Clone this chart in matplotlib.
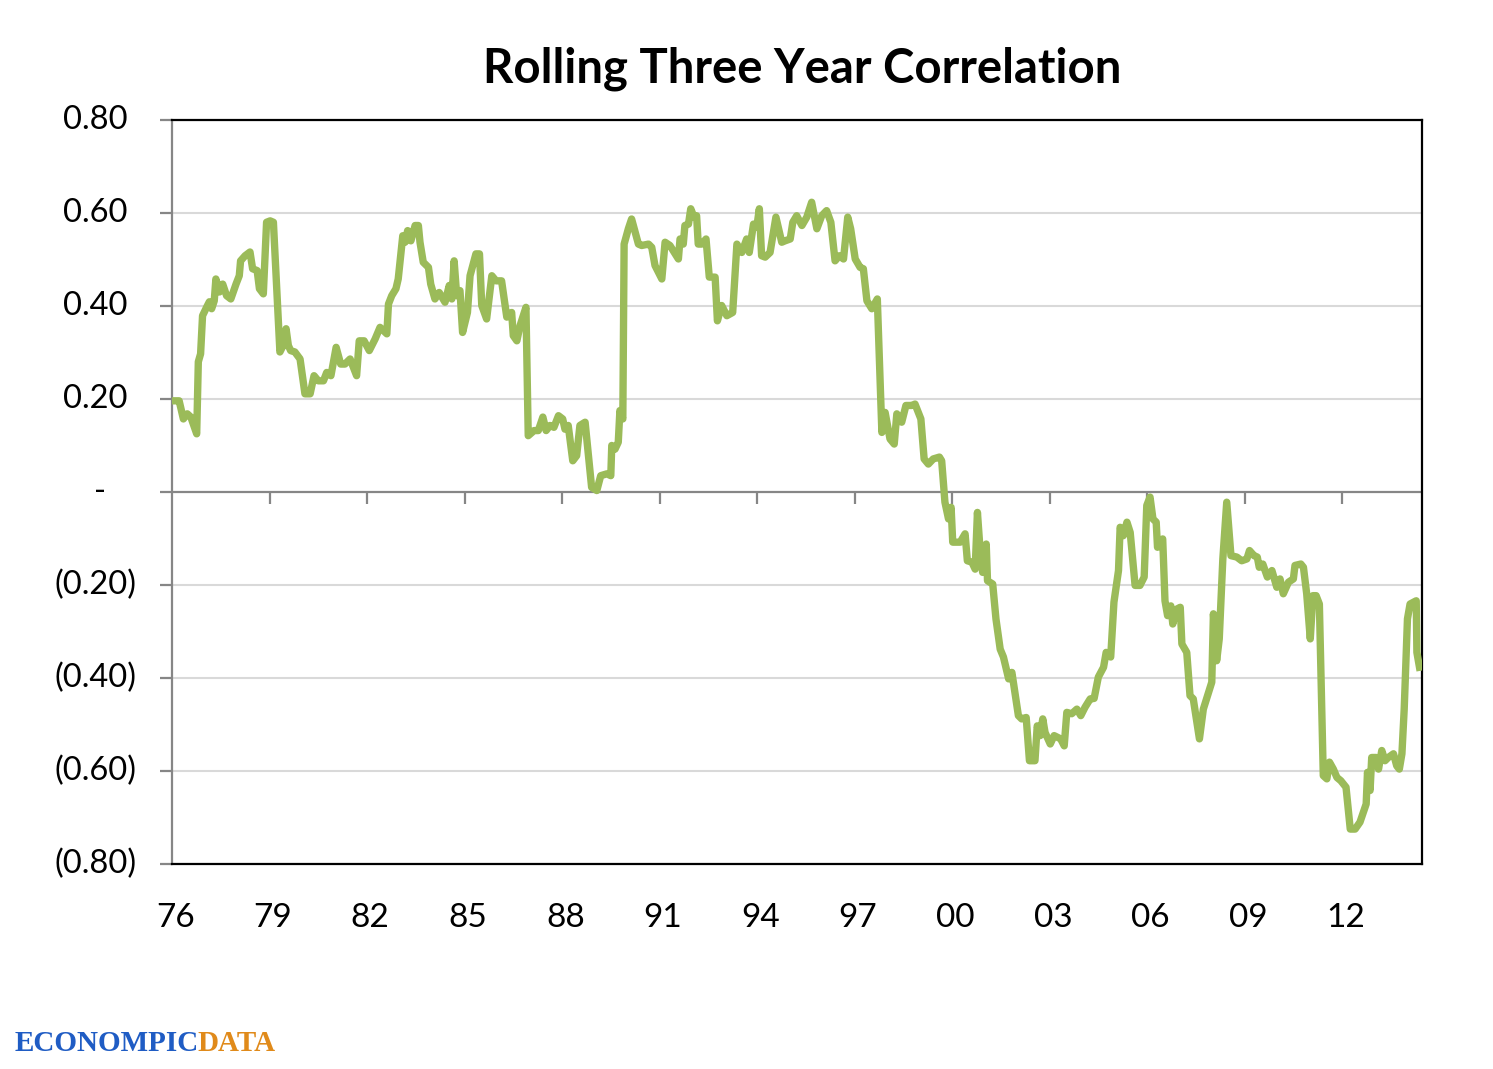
import matplotlib
matplotlib.use("Agg")
import matplotlib.pyplot as plt
import matplotlib.transforms as mtransforms
from matplotlib.markers import TICKDOWN

# rolling three year correlation (year as decimal)
years = [1976.09, 1976.22, 1976.35, 1976.47, 1976.58, 1976.76, 1976.81, 1976.88, 1976.94, 1977.07,
         1977.15, 1977.22, 1977.30, 1977.35, 1977.46, 1977.56, 1977.68, 1977.81, 1977.97, 1978.07,
         1978.11, 1978.25, 1978.40, 1978.48, 1978.62, 1978.69, 1978.81, 1978.91, 1979.02, 1979.12,
         1979.32, 1979.42, 1979.51, 1979.58, 1979.65, 1979.78, 1979.94, 1980.09, 1980.25, 1980.37,
         1980.50, 1980.66, 1980.76, 1980.89, 1981.05, 1981.19, 1981.32, 1981.48, 1981.68, 1981.76,
         1981.91, 1982.07, 1982.25, 1982.40, 1982.61, 1982.66, 1982.76, 1982.89, 1982.96, 1983.10,
         1983.17, 1983.25, 1983.35, 1983.48, 1983.58, 1983.63, 1983.73, 1983.89, 1983.96, 1984.09,
         1984.22, 1984.40, 1984.53, 1984.61, 1984.68, 1984.76, 1984.86, 1984.94, 1985.09, 1985.17,
         1985.35, 1985.46, 1985.53, 1985.68, 1985.84, 1985.97, 1986.14, 1986.30, 1986.45, 1986.50,
         1986.61, 1986.71, 1986.89, 1986.96, 1987.14, 1987.27, 1987.41, 1987.51, 1987.63, 1987.75,
         1987.89, 1988.02, 1988.09, 1988.19, 1988.33, 1988.45, 1988.55, 1988.71, 1988.91, 1989.07,
         1989.19, 1989.38, 1989.50, 1989.53, 1989.63, 1989.73, 1989.78, 1989.87, 1989.91, 1990.04,
         1990.14, 1990.35, 1990.45, 1990.66, 1990.76, 1990.86, 1991.07, 1991.17, 1991.32, 1991.58,
         1991.63, 1991.73, 1991.78, 1991.89, 1991.96, 1992.06, 1992.14, 1992.19, 1992.30, 1992.43,
         1992.53, 1992.71, 1992.78, 1992.91, 1993.07, 1993.25, 1993.38, 1993.53, 1993.68, 1993.76,
         1993.89, 1993.99, 1994.07, 1994.14, 1994.25, 1994.40, 1994.58, 1994.76, 1994.86, 1995.02,
         1995.10, 1995.22, 1995.38, 1995.53, 1995.68, 1995.84, 1995.99, 1996.14, 1996.27, 1996.40,
         1996.53, 1996.66, 1996.79, 1996.88, 1997.02, 1997.17, 1997.27, 1997.38, 1997.53, 1997.70,
         1997.84, 1997.94, 1998.09, 1998.22, 1998.30, 1998.45, 1998.58, 1998.76, 1998.86, 1999.04,
         1999.14, 1999.27, 1999.42, 1999.61, 1999.68, 1999.78, 1999.89, 1999.97, 2000.02, 2000.25,
         2000.40, 2000.47, 2000.61, 2000.71, 2000.78, 2000.86, 2000.94, 2001.05, 2001.09, 2001.25,
         2001.35, 2001.48, 2001.58, 2001.74, 2001.84, 2002.04, 2002.14, 2002.28, 2002.38, 2002.55,
         2002.62, 2002.71, 2002.79, 2002.86, 2003.02, 2003.14, 2003.34, 2003.45, 2003.53, 2003.68,
         2003.84, 2003.96, 2004.09, 2004.25, 2004.37, 2004.50, 2004.66, 2004.74, 2004.88, 2004.98,
         2005.12, 2005.17, 2005.27, 2005.38, 2005.48, 2005.63, 2005.78, 2005.91, 2005.99, 2006.09,
         2006.18, 2006.28, 2006.32, 2006.48, 2006.55, 2006.63, 2006.73, 2006.79, 2006.91, 2007.02,
         2007.07, 2007.22, 2007.32, 2007.42, 2007.61, 2007.73, 2007.99, 2008.04, 2008.14, 2008.22,
         2008.33, 2008.45, 2008.58, 2008.76, 2008.91, 2009.07, 2009.15, 2009.29, 2009.39, 2009.45,
         2009.56, 2009.70, 2009.84, 2009.99, 2010.09, 2010.19, 2010.35, 2010.50, 2010.55, 2010.73,
         2010.81, 2010.91, 2011.02, 2011.10, 2011.20, 2011.30, 2011.42, 2011.53, 2011.61, 2011.73,
         2011.84, 2011.96, 2012.12, 2012.25, 2012.40, 2012.55, 2012.74, 2012.78, 2012.86, 2012.91,
         2013.05, 2013.12, 2013.22, 2013.32, 2013.42, 2013.58, 2013.68, 2013.76, 2013.84, 2013.91,
         2014.01, 2014.09, 2014.28, 2014.30, 2014.38]

corr = [0.196, 0.196, 0.157, 0.168, 0.161, 0.125, 0.280, 0.297, 0.379, 0.398,
        0.409, 0.394, 0.411, 0.458, 0.430, 0.447, 0.422, 0.415, 0.447, 0.465,
        0.497, 0.508, 0.516, 0.480, 0.476, 0.437, 0.426, 0.580, 0.583, 0.580,
        0.301, 0.315, 0.351, 0.315, 0.304, 0.301, 0.286, 0.211, 0.211, 0.250,
        0.239, 0.239, 0.257, 0.250, 0.311, 0.275, 0.275, 0.286, 0.250, 0.325,
        0.325, 0.304, 0.329, 0.354, 0.340, 0.404, 0.422, 0.437, 0.458, 0.551,
        0.537, 0.562, 0.540, 0.573, 0.573, 0.537, 0.494, 0.483, 0.447, 0.415,
        0.429, 0.408, 0.444, 0.415, 0.497, 0.422, 0.433, 0.343, 0.386, 0.465,
        0.512, 0.512, 0.401, 0.372, 0.465, 0.454, 0.454, 0.376, 0.386, 0.336,
        0.325, 0.358, 0.397, 0.121, 0.132, 0.132, 0.161, 0.132, 0.143, 0.139,
        0.164, 0.157, 0.135, 0.143, 0.067, 0.078, 0.143, 0.150, 0.010, 0.003,
        0.035, 0.039, 0.035, 0.100, 0.092, 0.107, 0.175, 0.157, 0.533, 0.566,
        0.587, 0.533, 0.530, 0.533, 0.526, 0.487, 0.458, 0.537, 0.530, 0.501,
        0.544, 0.533, 0.573, 0.576, 0.609, 0.591, 0.594, 0.533, 0.533, 0.544,
        0.462, 0.462, 0.368, 0.401, 0.379, 0.386, 0.533, 0.515, 0.544, 0.515,
        0.576, 0.569, 0.609, 0.508, 0.505, 0.515, 0.591, 0.537, 0.540, 0.544,
        0.580, 0.594, 0.573, 0.591, 0.623, 0.566, 0.594, 0.605, 0.580, 0.497,
        0.508, 0.501, 0.591, 0.566, 0.501, 0.483, 0.480, 0.411, 0.394, 0.415,
        0.128, 0.171, 0.114, 0.103, 0.168, 0.150, 0.186, 0.186, 0.189, 0.157,
        0.071, 0.060, 0.071, 0.075, 0.067, -0.022, -0.058, -0.033, -0.108, -0.108,
        -0.090, -0.148, -0.151, -0.166, -0.044, -0.123, -0.173, -0.112, -0.191, -0.198,
        -0.273, -0.338, -0.355, -0.402, -0.388, -0.481, -0.488, -0.485, -0.578, -0.578,
        -0.503, -0.524, -0.488, -0.517, -0.542, -0.524, -0.531, -0.546, -0.474, -0.477,
        -0.467, -0.481, -0.463, -0.445, -0.444, -0.398, -0.377, -0.345, -0.355, -0.237,
        -0.169, -0.076, -0.094, -0.065, -0.087, -0.201, -0.201, -0.183, -0.029, -0.011,
        -0.058, -0.065, -0.119, -0.101, -0.234, -0.266, -0.245, -0.284, -0.252, -0.248,
        -0.327, -0.345, -0.438, -0.445, -0.531, -0.467, -0.409, -0.262, -0.363, -0.316,
        -0.144, -0.022, -0.137, -0.140, -0.148, -0.144, -0.126, -0.137, -0.140, -0.162,
        -0.155, -0.183, -0.169, -0.205, -0.187, -0.219, -0.194, -0.187, -0.158, -0.155,
        -0.162, -0.219, -0.316, -0.223, -0.223, -0.241, -0.610, -0.617, -0.581, -0.596,
        -0.614, -0.621, -0.635, -0.725, -0.725, -0.710, -0.671, -0.603, -0.642, -0.571,
        -0.571, -0.596, -0.556, -0.578, -0.571, -0.563, -0.589, -0.596, -0.563, -0.467,
        -0.273, -0.241, -0.234, -0.345, -0.377]

tick_years = list(range(1976, 2013, 3))
tick_labels = ["76", "79", "82", "85", "88", "91", "94", "97", "00", "03", "06", "09", "12"]
y_ticks = [0.8, 0.6, 0.4, 0.2, 0.0, -0.2, -0.4, -0.6, -0.8]
y_labels = ["0.80", "0.60", "0.40", "0.20", "-", "(0.20)", "(0.40)", "(0.60)", "(0.80)"]

plt.rcParams['font.family'] = ['Lato', 'DejaVu Sans']

fig = plt.figure(figsize=(14.93, 10.69), dpi=100)
ax = fig.add_axes([0.1152, 0.1918, 0.8373, 0.6960])

grey = "#868686"
for y in y_ticks:
    if y != 0:
        ax.axhline(y, color="#d9d9d9", lw=1.5, zorder=1)
ax.axhline(0, color=grey, lw=1.6, zorder=2)
# little tick marks hanging below the zero line
ax.plot(tick_years[1:], [0] * (len(tick_years) - 1), ls="none", marker=TICKDOWN,
        markersize=8.5, markeredgewidth=1.6, color=grey, zorder=2)

ax.plot(years, corr, color="#9BBB59", lw=5.3, solid_joinstyle="round", zorder=3)

ax.set_xlim(1976.0, 2014.46)
ax.set_ylim(-0.8, 0.8)

for s in ["top", "right", "bottom"]:
    ax.spines[s].set_color("black")
    ax.spines[s].set_linewidth(1.6)
ax.spines["left"].set_color(grey)
ax.spines["left"].set_linewidth(1.6)

ax.set_yticks(y_ticks)
ax.tick_params(axis="y", direction="out", length=8.5, width=1.6, color=grey, labelleft=False)
ax.set_xticks([t + 0.1 for t in tick_years])
ax.set_xticklabels(tick_labels)
ax.tick_params(axis="x", length=0, pad=28, labelsize=24)

# accounting style labels: positives leave room for the closing bracket
trans = mtransforms.blended_transform_factory(ax.transAxes, ax.transData)
for y, lab in zip(y_ticks, y_labels):
    if y > 0:
        ax.text(-0.0352, y, lab, transform=trans, ha="right", va="center", fontsize=23.5)
    elif y == 0:
        ax.text(-0.0525, y, lab, transform=trans, ha="right", va="center", fontsize=23.5)
    else:
        ax.text(-0.0285, y, lab, transform=trans, ha="right", va="center", fontsize=23.5)

fig.text(0.537, 0.936, "Rolling Three Year Correlation", ha="center", va="center",
         fontsize=34, fontweight="bold")

# source logo
fig.text(0.010, 0.011, "ECONOMPIC", color="#1f5cc4", fontsize=21, fontweight="bold",
         family="Liberation Serif", ha="left", va="bottom")
fig.text(0.1325, 0.011, "DATA", color="#e08a1a", fontsize=21, fontweight="bold",
         family="Liberation Serif", ha="left", va="bottom")

fig.savefig("out.png", dpi=100)
